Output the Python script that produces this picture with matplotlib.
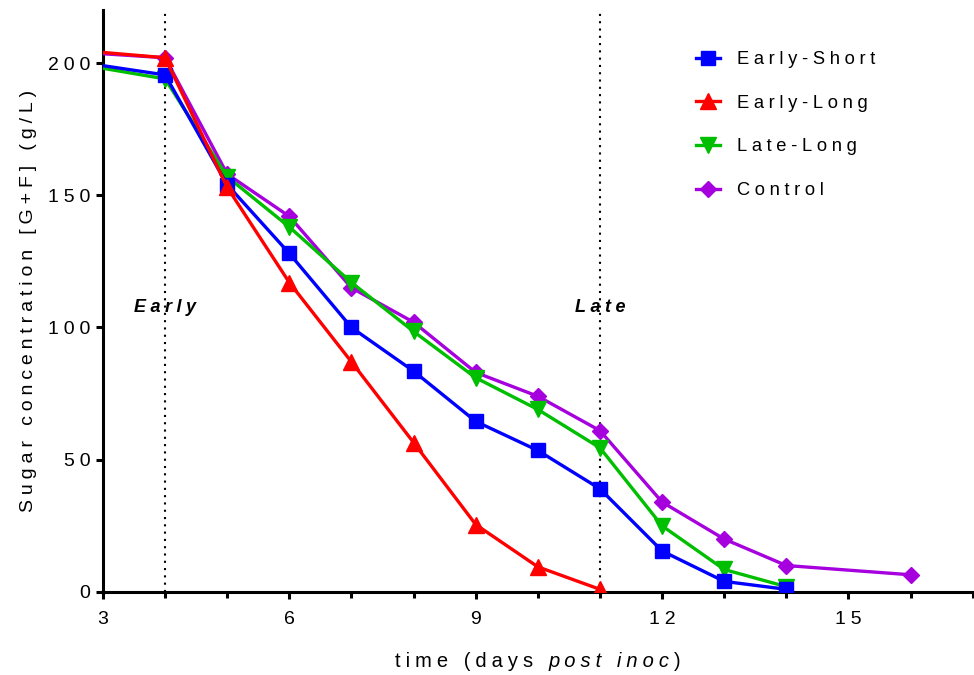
import numpy as np
import matplotlib.pyplot as plt
from matplotlib.ticker import MultipleLocator, FuncFormatter
from matplotlib.offsetbox import TextArea, HPacker, AnnotationBbox

plt.rcParams['font.family'] = ['Liberation Sans', 'DejaVu Sans']

# sampling days (first point at day 3 is drawn without a marker)
days_es = [3, 4, 5, 6, 7, 8, 9, 10, 11, 12, 13, 14]
early_short = [199, 195.5, 154, 128, 100, 83.5, 64.5, 53.5, 39, 15.5, 4, 1]

days_el = [3, 4, 5, 6, 7, 8, 9, 10, 11]
early_long = [204, 202, 153, 117, 87, 56.5, 25.5, 9.5, 1]

days_ll = [3, 4, 5, 6, 7, 8, 9, 10, 11, 12, 13, 14]
late_long = [198, 194, 157, 138, 117, 98.5, 81, 69, 54.5, 25, 8.5, 2]

days_ct = [3, 4, 5, 6, 7, 8, 9, 10, 11, 12, 13, 14, 16]
control = [203.5, 202, 158, 142, 115, 102, 83, 74, 61, 34, 20, 10, 6.5]

# treatment marks
event_days = [4, 11]
event_labels = ['Early', 'Late']

GAP = '\u2005'


def spaced(s):
    # wide letter tracking like the original export
    return GAP.join(s)


fig = plt.figure(figsize=(9.74, 6.75), dpi=100)
ax = fig.add_axes([0.1057, 0.123, 0.893, 0.862])

series = [
    (days_ct, control, 'Control', '#A600DE', 'D', 8.5),
    (days_ll, late_long, 'Late-Long', '#00BE00', 'v', 12),
    (days_es, early_short, 'Early-Short', '#0000FF', 's', 10.5),
    (days_el, early_long, 'Early-Long', '#FF0000', '^', 12),
]
handles = {}
for x, y, name, col, mk, ms in series:
    h, = ax.plot(x, y, color=col, lw=2.4, marker=mk, ms=ms,
                 markevery=list(range(1, len(x))), label=name, zorder=3)
    handles[name] = h

for d, lab in zip(event_days, event_labels):
    ax.axvline(d, color='black', ls=(0, (1, 2.5)), lw=1.5, zorder=1)
    ax.text(d, 107.5, spaced(lab), ha='center', va='center', fontsize=13,
            fontweight='bold', fontstyle='italic')

ax.set_xlim(3, 17)
ax.set_ylim(0, 220)
ax.xaxis.set_major_locator(MultipleLocator(3))
ax.xaxis.set_minor_locator(MultipleLocator(1))
ax.yaxis.set_major_locator(MultipleLocator(50))
fmt = FuncFormatter(lambda v, p: spaced('%d' % v))
ax.xaxis.set_major_formatter(fmt)
ax.yaxis.set_major_formatter(fmt)

for s in ['top', 'right']:
    ax.spines[s].set_visible(False)
for s in ['left', 'bottom']:
    ax.spines[s].set_linewidth(2.2)
ax.tick_params(axis='both', which='major', width=2.2, length=5, labelsize=14)
ax.tick_params(axis='x', which='minor', width=2.2, length=4.5)
ax.tick_params(axis='x', which='major', pad=9)
ax.tick_params(axis='y', which='major', pad=4)

# x label with italic part
rom = dict(fontsize=14.5, family=['Liberation Sans', 'DejaVu Sans'])
ita = dict(fontsize=14.5, family=['Liberation Sans', 'DejaVu Sans'],
           fontstyle='italic')
parts = HPacker(children=[
    TextArea(spaced('time (days ') + GAP, textprops=rom),
    TextArea(spaced('post inoc'), textprops=ita),
    TextArea(GAP + ')', textprops=rom),
], align='baseline', pad=0, sep=0)
ab = AnnotationBbox(parts, (0.5, -0.12), xycoords='axes fraction',
                    frameon=False, box_alignment=(0.5, 0.5),
                    annotation_clip=False)
ax.add_artist(ab)

ax.set_ylabel(spaced('Sugar concentration [G+F] (g/L)'), fontsize=14)
ax.yaxis.set_label_coords(-0.076, 0.5)

order = ['Early-Short', 'Early-Long', 'Late-Long', 'Control']
ax.legend([handles[n] for n in order], [spaced(n) for n in order],
          loc='upper left', bbox_to_anchor=(0.673, 0.942), frameon=False,
          fontsize=13.2, handlelength=1.35, labelspacing=1.45,
          handletextpad=0.9, borderaxespad=0)

plt.savefig('out.png', dpi=100)
